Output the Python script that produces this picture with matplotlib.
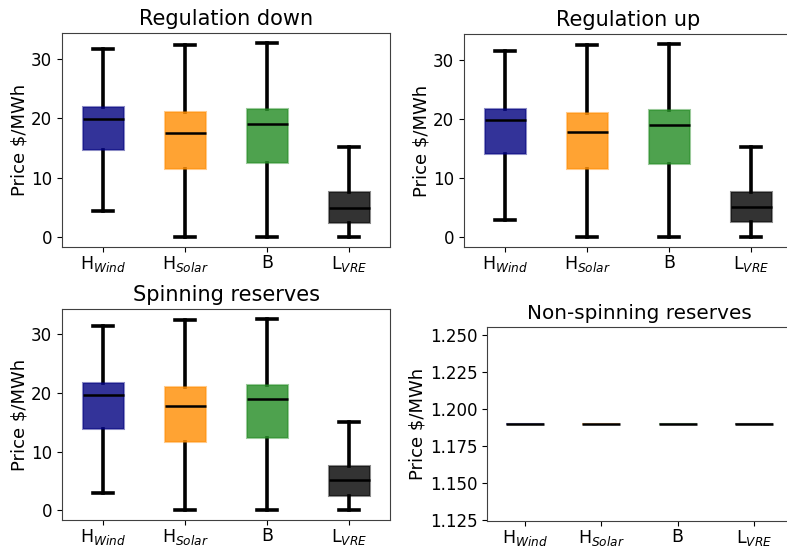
import matplotlib
matplotlib.use("Agg")
import matplotlib.pyplot as plt
from matplotlib.colors import to_rgba
from matplotlib.ticker import MultipleLocator, FormatStrFormatter

# Scenario labels
labels = [r'H$_{Wind}$', r'H$_{Solar}$', 'B', r'L$_{VRE}$']
colors = ['navy', 'darkorange', 'forestgreen', 'black']

# Box stats per panel: whisker low, q1, median, q3, whisker high
reg_down_lo = [4.4, 0.0, 0.0, 0.1]
reg_down_q1 = [14.7, 11.5, 12.4, 2.4]
reg_down_med = [19.9, 17.6, 19.0, 4.9]
reg_down_q3 = [21.9, 21.0, 21.5, 7.6]
reg_down_hi = [31.6, 32.4, 32.7, 15.2]

reg_up_lo = [3.0, 0.0, 0.0, 0.1]
reg_up_q1 = [14.1, 11.6, 12.4, 2.5]
reg_up_med = [19.8, 17.8, 19.0, 5.1]
reg_up_q3 = [21.7, 21.0, 21.5, 7.7]
reg_up_hi = [31.4, 32.4, 32.7, 15.2]

spin_lo = [2.9, 0.0, 0.0, 0.1]
spin_q1 = [13.9, 11.6, 12.3, 2.4]
spin_med = [19.7, 17.75, 19.0, 5.1]
spin_q3 = [21.7, 21.0, 21.3, 7.6]
spin_hi = [31.3, 32.3, 32.6, 15.1]

nonspin_val = [1.19, 1.19, 1.19, 1.19]


def make_stats(lo, q1, med, q3, hi):
    return [{'whislo': a, 'q1': b, 'med': c, 'q3': d, 'whishi': e, 'fliers': []}
            for a, b, c, d, e in zip(lo, q1, med, q3, hi)]


def draw_panel(ax, stats, title, title_size=15, caps=True):
    bp = ax.bxp(stats, positions=[1, 2, 3, 4], widths=0.5, patch_artist=True,
                showfliers=False, showcaps=caps,
                boxprops=dict(linewidth=1.5, zorder=3),
                whiskerprops=dict(linewidth=2.6, color='black', solid_capstyle='projecting'),
                capprops=dict(linewidth=2.6, color='black'),
                medianprops=dict(linewidth=1.8, color='black', zorder=4))
    for patch, c in zip(bp['boxes'], colors):
        patch.set_facecolor(to_rgba(c, 0.8))
        patch.set_edgecolor(to_rgba(c, 0.45))
    ax.set_xticks([1, 2, 3, 4])
    ax.set_xticklabels(labels, fontsize=12.5)
    ax.set_xlim(0.5, 4.5)
    ax.set_title(title, fontsize=title_size)
    ax.set_ylabel('Price $/MWh', fontsize=13, labelpad=2)
    ax.tick_params(axis='y', labelsize=12)
    ax.tick_params(axis='x', pad=1.5)
    for s in ax.spines.values():
        s.set_color('0.25')


fig = plt.figure(figsize=(7.87, 5.48), dpi=100)

ax1 = fig.add_axes([0.0788, 0.5493, 0.4168, 0.3905])
ax2 = fig.add_axes([0.5896, 0.5493, 0.4168, 0.3887])
ax3 = fig.add_axes([0.0788, 0.0510, 0.4168, 0.3851])
ax4 = fig.add_axes([0.6188, 0.0500, 0.3875, 0.3533])

draw_panel(ax1, make_stats(reg_down_lo, reg_down_q1, reg_down_med, reg_down_q3, reg_down_hi),
           'Regulation down')
draw_panel(ax2, make_stats(reg_up_lo, reg_up_q1, reg_up_med, reg_up_q3, reg_up_hi),
           'Regulation up')
draw_panel(ax3, make_stats(spin_lo, spin_q1, spin_med, spin_q3, spin_hi),
           'Spinning reserves')
draw_panel(ax4, make_stats(nonspin_val, nonspin_val, nonspin_val, nonspin_val, nonspin_val),
           'Non-spinning reserves', title_size=14.4, caps=False)
ax4.yaxis.set_major_locator(MultipleLocator(0.025))
ax4.yaxis.set_major_formatter(FormatStrFormatter('%.3f'))

fig.savefig('out.png', dpi=100)
